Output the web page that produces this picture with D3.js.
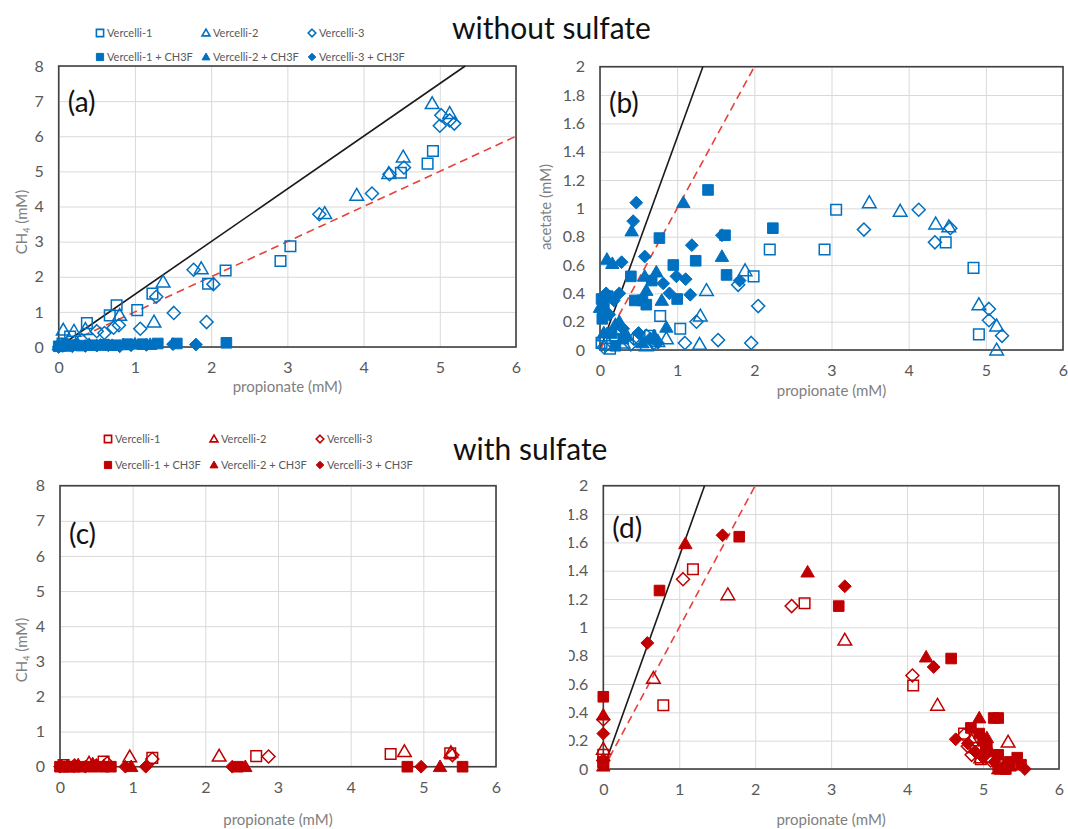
<!DOCTYPE html>
<html>
<head>
<style>
  body { margin: 0; background: #fff; }
  svg text { font-family: Lato, "Open Sans", sans-serif; }
  .tick text { fill: #595959; }
  .grid line { stroke: #d9d9d9; stroke-width: 1; }
  .legend text { fill: #595959; font-size: 11px; }
  .axis-title { fill: #7f7f7f; font-size: 15px; }
</style>
</head>
<body>
<svg id="chart" width="1068" height="829"></svg>
<script src="https://d3js.org/d3.v7.min.js"></script>
<script>
// ---- data (propionate mM, product mM) ----
const seriesNames = ["Vercelli-1", "Vercelli-2", "Vercelli-3",
  "Vercelli-1 + CH3F", "Vercelli-2 + CH3F", "Vercelli-3 + CH3F"];

// (a) CH4 vs propionate, without sulfate
const aV1 = [[0.05,0.1],[0.15,0.3],[0.37,0.68],[0.67,0.9],[0.76,1.19],[1.03,1.05],[1.23,1.52],[1.96,1.8],[2.19,2.18],[2.91,2.45],[3.04,2.87],[4.49,4.96],[4.84,5.22],[4.91,5.58]];
const aV2 = [[0.06,0.48],[0.2,0.45],[0.35,0.5],[0.8,0.9],[1.25,0.71],[1.37,1.85],[1.87,2.23],[3.49,3.8],[3.91,4.32],[4.33,4.94],[4.52,5.41],[4.9,6.93],[5.13,6.65]];
const aV3 = [[0.05,0.05],[0.3,0.2],[0.5,0.45],[0.6,0.4],[0.72,0.55],[0.79,0.62],[1.07,0.52],[1.28,1.43],[1.51,0.97],[1.77,2.2],[1.94,0.71],[2.03,1.79],[3.42,3.78],[4.11,4.37],[4.34,4.92],[4.53,5.11],[5.0,6.3],[5.02,6.6],[5.13,6.45],[5.19,6.36]];
const aF1 = [[0,0.02],[0.05,0.05],[0.1,0.03],[0.2,0.05],[0.3,0.04],[0.45,0.05],[0.6,0.06],[0.75,0.05],[0.9,0.08],[1.1,0.08],[1.3,0.1],[1.55,0.1],[2.2,0.12]];
const aF2 = [[0,0.05],[0.1,0.1],[0.25,0.08],[0.4,0.07],[0.55,0.05],[0.7,0.04],[0.85,0.06],[1.0,0.08],[1.2,0.07]];
const aF3 = [[0,0],[0.08,0.05],[0.18,0.02],[0.35,0.03],[0.5,0.04],[0.65,0.05],[0.8,0.02],[0.95,0.05],[1.15,0.06],[1.5,0.08],[1.8,0.07]];

// (b) acetate vs propionate, without sulfate
const bV1 = [[0.02,0.05],[0.13,0.01],[0.5,0.08],[0.65,0.1],[0.78,0.24],[1.04,0.15],[1.99,0.52],[2.2,0.71],[2.91,0.71],[3.06,0.99],[4.48,0.76],[4.84,0.58],[4.91,0.11]];
const bV2 = [[0.05,0.1],[0.3,0.05],[0.6,0.03],[0.75,0.06],[0.86,0.08],[1.29,0.04],[1.3,0.24],[1.38,0.42],[1.88,0.56],[3.49,1.04],[3.89,0.98],[4.35,0.89],[4.52,0.87],[4.91,0.32],[5.14,0.17],[5.14,0]];
const bV3 = [[0.05,0.02],[0.2,0.08],[0.4,0.04],[0.44,0.08],[0.6,0.1],[0.7,0.05],[1.1,0.05],[1.25,0.2],[1.53,0.07],[1.79,0.46],[1.96,0.05],[2.05,0.31],[3.42,0.85],[4.13,0.99],[4.34,0.76],[4.54,0.86],[5.04,0.29],[5.04,0.21],[5.21,0.1]];
const bF1 = [[0.02,0.36],[0.05,0.3],[0.1,0.38],[0.03,0.22],[0.15,0.12],[0.3,0.08],[0.2,0.03],[0.4,0.52],[0.45,0.35],[0.55,0.35],[0.6,0.32],[0.67,0.49],[0.77,0.79],[0.95,0.6],[1.0,0.36],[1.24,0.63],[1.4,1.13],[1.62,0.81],[1.64,0.53],[2.24,0.86]];
const bF2 = [[0,0.3],[0.05,0.12],[0.09,0.64],[0.16,0.61],[0.2,0.18],[0.25,0.2],[0.35,0.1],[0.41,0.84],[0.55,0.05],[0.58,0.52],[0.6,0.42],[0.7,0.1],[0.73,0.55],[0.8,0.35],[0.86,0.16],[1.08,1.04],[1.58,0.66]];
const bF3 = [[0.02,0.28],[0.08,0.4],[0.12,0.25],[0.18,0.35],[0.25,0.4],[0.28,0.62],[0.3,0.15],[0.43,0.91],[0.47,1.04],[0.5,0.12],[0.58,0.66],[0.65,0.08],[0.75,0.05],[0.82,0.47],[0.9,0.4],[0.99,0.52],[1.11,0.5],[1.17,0.39],[1.19,0.74],[1.58,0.81],[1.81,0.49]];

// (c) CH4 vs propionate, with sulfate
const cV1 = [[0.05,0.05],[0.6,0.15],[1.27,0.25],[2.7,0.3],[4.55,0.36],[5.37,0.38]];
const cV2 = [[0.4,0.1],[0.96,0.28],[2.19,0.3],[4.74,0.43],[5.38,0.4]];
const cV3 = [[0.2,0.03],[0.65,0.1],[1.27,0.22],[2.87,0.29],[5.4,0.33]];
const cF1 = [[0,0],[0.05,0],[0.12,0],[0.2,0],[0.3,0],[0.45,0],[0.6,0],[0.7,0],[2.45,0],[4.78,0],[5.54,0]];
const cF2 = [[0.02,0.02],[0.25,0.05],[0.45,0.08],[0.6,0.02],[0.98,0],[2.55,0],[5.23,0]];
const cF3 = [[0,0],[0.1,0.02],[0.35,0],[0.5,0.05],[0.9,0],[1.18,0],[2.37,0],[4.97,0]];

// (d) acetate vs propionate, with sulfate
const dV1 = [[0,0.1],[0,0.05],[0.79,0.45],[1.18,1.41],[2.65,1.17],[4.08,0.59],[4.75,0.25],[4.9,0.15],[4.97,0.07],[5.2,0.03]];
const dV2 = [[0,0.14],[0.66,0.64],[1.64,1.23],[3.18,0.91],[4.4,0.45],[4.85,0.2],[4.97,0.08],[5.25,0],[5.33,0.19]];
const dV3 = [[0,0.35],[0,0.06],[1.05,1.34],[2.48,1.15],[4.07,0.66],[4.75,0.24],[4.8,0.16],[4.85,0.1],[5.1,0.06],[5.3,0.02]];
const dF1 = [[0,0.51],[0,0.05],[0.74,1.26],[1.79,1.64],[3.1,1.15],[4.58,0.78],[4.84,0.29],[4.95,0.25],[5.0,0.2],[5.05,0.15],[5.14,0.36],[5.2,0.36],[5.2,0.1],[5.3,0],[5.35,0.05],[5.45,0.08],[5.5,0.03]];
const dF2 = [[0,0.38],[0,0.02],[1.08,1.59],[2.69,1.39],[4.25,0.79],[4.95,0.36],[5.05,0.22],[5.1,0.12],[5.2,0],[5.35,0.02]];
const dF3 = [[0,0.25],[0.58,0.89],[1.57,1.65],[3.18,1.29],[4.35,0.72],[4.64,0.21],[4.8,0.18],[4.9,0.12],[5.0,0.08],[5.15,0.05],[5.3,0.03],[5.55,0]];

// reference lines: slope of solid black and dashed red lines
const refSlopes = [1.5, 1.0];

const xTicks = [0, 1, 2, 3, 4, 5, 6];
const ch4Ticks = [0, 1, 2, 3, 4, 5, 6, 7, 8];
const acetateTicks = [0, 0.2, 0.4, 0.6, 0.8, 1, 1.2, 1.4, 1.6, 1.8, 2];

const BLUE = "#0070c0", RED = "#c00000";
const svg = d3.select("#chart");
svg.append("rect").attr("width", 1068).attr("height", 829).attr("fill", "#fff");

function shapePath(shape, s) {
  if (shape === "square") return `M${-s},${-s}h${2*s}v${2*s}h${-2*s}Z`;
  if (shape === "triangle") return `M0,${-s*1.1}L${s*1.1},${s*0.8}L${-s*1.1},${s*0.8}Z`;
  return `M0,${-s*1.05}L${s*1.05},0L0,${s*1.05}L${-s*1.05},0Z`;
}
const shapes = ["square", "triangle", "diamond"];

function panel(p) {
  const g = svg.append("g");
  const x = d3.scaleLinear().domain([0, 6]).range([p.left, p.right]);
  const y = d3.scaleLinear().domain([0, p.ymax]).range([p.bottom, p.top]);
  const w = p.right - p.left, h = p.bottom - p.top;

  // gridlines
  g.append("g").attr("class", "grid")
    .attr("transform", `translate(0,${p.bottom})`)
    .call(d3.axisBottom(x).tickValues(xTicks).tickSize(-h).tickFormat(""))
    .call(s => s.select(".domain").remove());
  g.append("g").attr("class", "grid")
    .attr("transform", `translate(${p.left},0)`)
    .call(d3.axisLeft(y).tickValues(p.yTicks).tickSize(-w).tickFormat(""))
    .call(s => s.select(".domain").remove());

  // tick labels
  g.append("g")
    .attr("transform", `translate(0,${p.bottom})`)
    .call(d3.axisBottom(x).tickValues(xTicks).tickSize(0).tickPadding(15).tickFormat(d3.format("d")))
    .call(s => s.select(".domain").remove())
    .selectAll("text").attr("font-size", 16).attr("font-family", "Lato");
  const yl = g.append("g")
    .attr("transform", `translate(${p.left},0)`)
    .call(d3.axisLeft(y).tickValues(p.yTicks).tickSize(0).tickPadding(15).tickFormat(d => String(+d.toFixed(1))))
    .call(s => s.select(".domain").remove());
  yl.selectAll("text").attr("font-size", 16).attr("font-family", "Lato");
  if (p.clipLeft) {
    // clip coordinates are local to the translated axis group
    svg.append("clipPath").attr("id", "clip" + p.label)
      .append("rect").attr("x", p.clipLeft - p.left).attr("y", 0).attr("width", 1068).attr("height", 829);
    yl.attr("clip-path", `url(#clip${p.label})`);
  }

  // frame
  g.append("rect").attr("x", p.left).attr("y", p.top).attr("width", w).attr("height", h)
    .attr("fill", "none").attr("stroke", "#404040").attr("stroke-width", 1.6);

  // reference lines
  if (p.refLines) {
    refSlopes.forEach((k, i) => {
      const xEnd = Math.min(6, p.ymax / k);
      g.append("line")
        .attr("x1", x(0)).attr("y1", y(0)).attr("x2", x(xEnd)).attr("y2", y(k * xEnd))
        .attr("stroke", i === 0 ? "#1a1a1a" : "#e8403a")
        .attr("stroke-width", 1.6)
        .attr("stroke-dasharray", i === 0 ? null : "8,5");
    });
  }

  // points
  const color = p.color;
  p.series.forEach((data, si) => {
    const filled = si >= 3;
    const shape = shapes[si % 3];
    const size = filled ? (shape === "square" ? 5.3 : 6.1) : (shape === "square" ? 5.3 : 6.2);
    g.append("g").selectAll("path").data(data).join("path")
      .attr("transform", d => `translate(${x(d[0])},${y(d[1])})`)
      .attr("d", shapePath(shape, size))
      .attr("fill", filled ? color : "none")
      .attr("stroke", color)
      .attr("stroke-width", filled ? 1 : 1.5);
  });

  // labels
  g.append("text").attr("x", p.left + 9).attr("y", p.top + p.labelDy)
    .attr("font-size", 28).attr("fill", "#111").text(`(${p.label})`);
  g.append("text").attr("class", "axis-title")
    .attr("x", (p.left + p.right) / 2).attr("y", p.titleY)
    .attr("text-anchor", "middle").text("propionate (mM)");
  if (p.yTitle) {
    const t = g.append("text").attr("class", "axis-title")
      .attr("transform", `translate(${p.yTitleX},${p.yTitleY}) rotate(-90)`)
      .attr("text-anchor", "middle").attr("font-size", 14);
    if (p.yTitle === "CH4") {
      t.append("tspan").text("CH");
      t.append("tspan").attr("font-size", 9).attr("dy", 3).text("4");
      t.append("tspan").attr("dy", -3).text(" (mM)");
    } else {
      t.text(p.yTitle);
    }
  }
}

function legend(lx, ly, row2dy, color, clipRight, id) {
  const g = svg.append("g").attr("class", "legend");
  if (clipRight) {
    svg.append("clipPath").attr("id", id).append("rect")
      .attr("x", 0).attr("y", 0).attr("width", clipRight).attr("height", 829);
    g.attr("clip-path", `url(#${id})`);
  }
  const colX = [0, 106, 212];
  seriesNames.forEach((name, i) => {
    const cx = lx + colX[i % 3], cy = ly + (i >= 3 ? row2dy : 0);
    const filled = i >= 3;
    g.append("path").attr("transform", `translate(${cx},${cy})`)
      .attr("d", shapePath(shapes[i % 3], 3.6))
      .attr("fill", filled ? color : "none").attr("stroke", color).attr("stroke-width", filled ? 1 : 1.6);
    g.append("text").attr("x", cx + 7).attr("y", cy + 4).text(name);
  });
}

// titles
svg.append("text").attr("x", 452).attr("y", 39).attr("font-size", 30).attr("fill", "#111").text("without sulfate");
svg.append("text").attr("x", 453).attr("y", 460).attr("font-size", 30).attr("fill", "#111").text("with sulfate");

legend(100, 33, 24, BLUE, null, "lgA");
legend(108, 439, 26, RED, 441, "lgC");

panel({ label: "a", left: 58.7, right: 516, top: 66, bottom: 347, ymax: 8, yTicks: ch4Ticks,
  color: BLUE, series: [aV1, aV2, aV3, aF1, aF2, aF3], labelDy: 46, titleY: 392, refLines: true,
  yTitle: "CH4", yTitleX: 27, yTitleY: 222 });
panel({ label: "b", left: 600, right: 1063, top: 66.7, bottom: 350, ymax: 2, yTicks: acetateTicks,
  color: BLUE, series: [bV1, bV2, bV3, bF1, bF2, bF3], labelDy: 46, titleY: 396, refLines: true,
  yTitle: "acetate (mM)", yTitleX: 551, yTitleY: 207 });
panel({ label: "c", left: 60, right: 496, top: 485.7, bottom: 766.7, ymax: 8, yTicks: ch4Ticks,
  color: RED, series: [cV1, cV2, cV3, cF1, cF2, cF3], labelDy: 58, titleY: 825, refLines: false,
  yTitle: "CH4", yTitleX: 27, yTitleY: 650 });
panel({ label: "d", left: 603.3, right: 1059, top: 485.7, bottom: 769, ymax: 2, yTicks: acetateTicks,
  color: RED, series: [dV1, dV2, dV3, dF1, dF2, dF3], labelDy: 52, titleY: 825, refLines: true,
  clipLeft: 569 });
</script>
</body>
</html>
